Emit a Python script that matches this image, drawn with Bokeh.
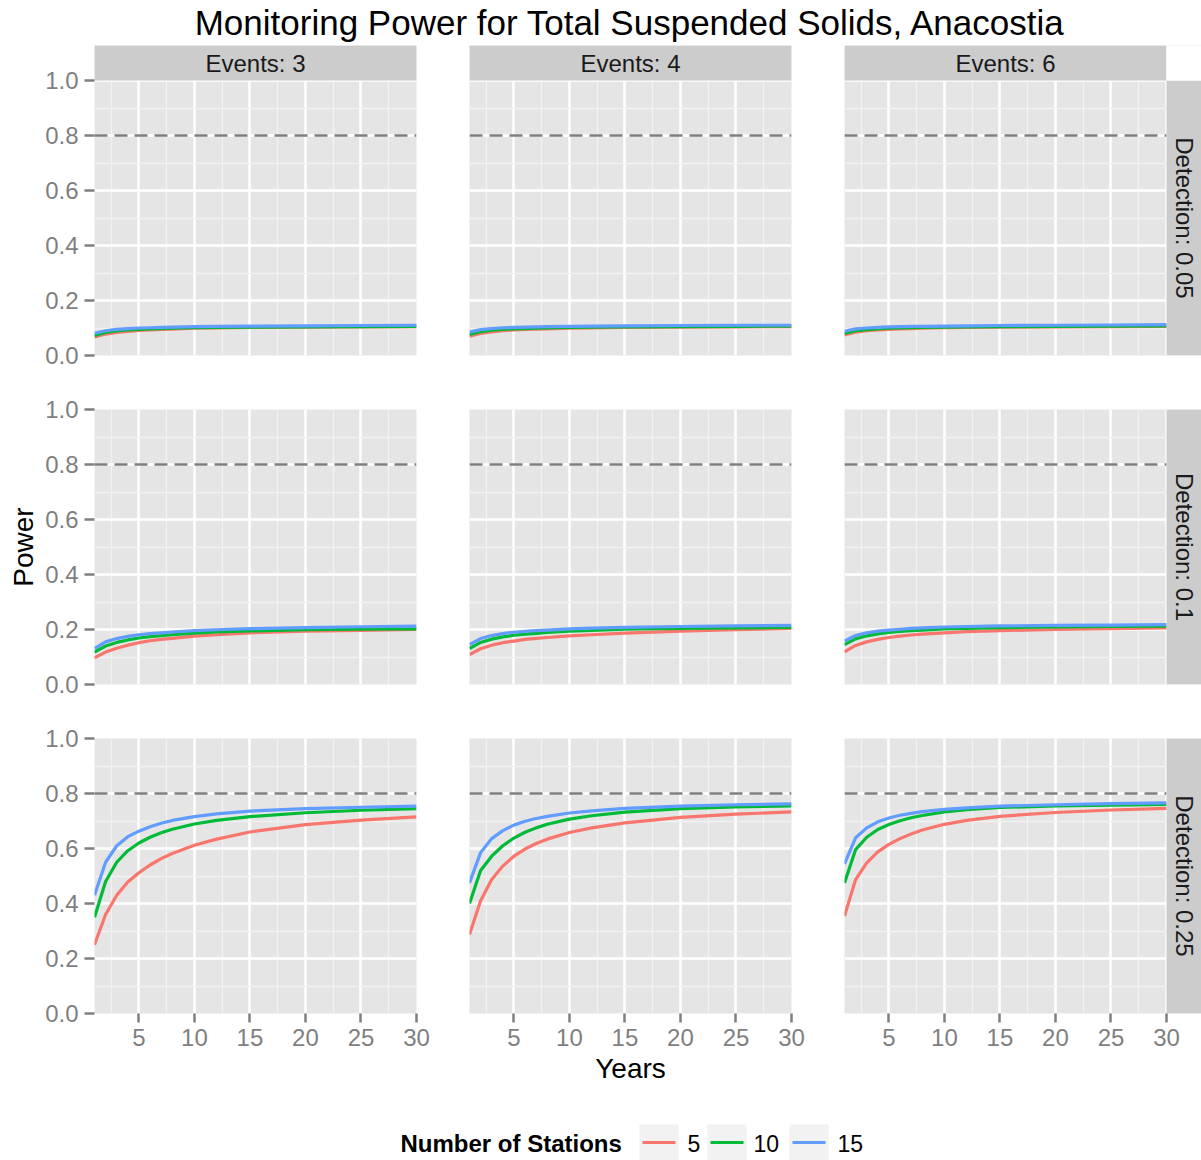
import math
from bokeh.plotting import figure
from bokeh.layouts import column, row
from bokeh.models import Range1d, FixedTicker, LinearAxis, PrintfTickFormatter, Grid
from bokeh.core.properties import value
from bokeh.embed import file_html
from bokeh.resources import INLINE

# ---------------- data ----------------
TITLE = "Monitoring Power for Total Suspended Solids, Anacostia"
X_LABEL = "Years"
Y_LABEL = "Power"
LEGEND_TITLE = "Number of Stations"
events = [3, 4, 6]
detections = ["0.05", "0.1", "0.25"]
stations = ["5", "10", "15"]
years = [1, 2, 3, 4, 5, 6, 7, 8, 10, 12, 15, 20, 25, 30]
x_ticks = [5, 10, 15, 20, 25, 30]
x_minor_ticks = [2.5, 7.5, 12.5, 17.5, 22.5, 27.5]
y_ticks = [0.0, 0.2, 0.4, 0.6, 0.8, 1.0]
y_minor_ticks = [0.1, 0.3, 0.5, 0.7, 0.9]
target_power = 0.8

# Detection 0.05
d005_e3_n5 = [0.067, 0.078, 0.084, 0.088, 0.091, 0.093, 0.095, 0.096, 0.099, 0.100, 0.102, 0.103, 0.104, 0.105]
d005_e3_n10 = [0.073, 0.084, 0.089, 0.093, 0.095, 0.097, 0.098, 0.099, 0.101, 0.102, 0.103, 0.104, 0.105, 0.106]
d005_e3_n15 = [0.081, 0.090, 0.095, 0.098, 0.100, 0.101, 0.102, 0.103, 0.105, 0.106, 0.107, 0.108, 0.109, 0.110]
d005_e4_n5 = [0.070, 0.080, 0.086, 0.090, 0.093, 0.095, 0.096, 0.097, 0.099, 0.100, 0.102, 0.103, 0.104, 0.105]
d005_e4_n10 = [0.077, 0.087, 0.092, 0.095, 0.097, 0.098, 0.099, 0.100, 0.102, 0.103, 0.104, 0.105, 0.106, 0.107]
d005_e4_n15 = [0.085, 0.094, 0.098, 0.101, 0.102, 0.103, 0.104, 0.105, 0.106, 0.107, 0.108, 0.109, 0.110, 0.110]
d005_e6_n5 = [0.075, 0.085, 0.090, 0.093, 0.095, 0.097, 0.098, 0.099, 0.101, 0.102, 0.103, 0.104, 0.105, 0.106]
d005_e6_n10 = [0.080, 0.090, 0.094, 0.097, 0.099, 0.100, 0.101, 0.102, 0.103, 0.104, 0.105, 0.106, 0.107, 0.108]
d005_e6_n15 = [0.088, 0.097, 0.100, 0.102, 0.104, 0.105, 0.106, 0.106, 0.107, 0.108, 0.109, 0.110, 0.111, 0.112]

# Detection 0.1
d01_e3_n5 = [0.097, 0.118, 0.132, 0.143, 0.152, 0.159, 0.164, 0.168, 0.176, 0.181, 0.188, 0.194, 0.197, 0.200]
d01_e3_n10 = [0.118, 0.140, 0.153, 0.162, 0.169, 0.174, 0.178, 0.181, 0.187, 0.191, 0.195, 0.199, 0.201, 0.202]
d01_e3_n15 = [0.131, 0.155, 0.167, 0.175, 0.181, 0.185, 0.188, 0.191, 0.196, 0.199, 0.203, 0.207, 0.210, 0.212]
d01_e4_n5 = [0.109, 0.130, 0.143, 0.152, 0.158, 0.164, 0.168, 0.171, 0.177, 0.181, 0.187, 0.194, 0.199, 0.204]
d01_e4_n10 = [0.131, 0.153, 0.165, 0.173, 0.179, 0.183, 0.186, 0.189, 0.194, 0.197, 0.201, 0.204, 0.206, 0.208]
d01_e4_n15 = [0.145, 0.167, 0.178, 0.185, 0.190, 0.193, 0.196, 0.198, 0.202, 0.205, 0.208, 0.211, 0.213, 0.215]
d01_e6_n5 = [0.119, 0.142, 0.155, 0.164, 0.171, 0.176, 0.180, 0.183, 0.188, 0.192, 0.196, 0.200, 0.203, 0.206]
d01_e6_n10 = [0.145, 0.166, 0.177, 0.184, 0.189, 0.193, 0.196, 0.198, 0.202, 0.204, 0.207, 0.209, 0.211, 0.212]
d01_e6_n15 = [0.158, 0.178, 0.188, 0.194, 0.198, 0.201, 0.204, 0.206, 0.209, 0.211, 0.213, 0.215, 0.216, 0.218]

# Detection 0.25
d025_e3_n5 = [0.250, 0.360, 0.430, 0.478, 0.512, 0.540, 0.563, 0.582, 0.612, 0.634, 0.660, 0.687, 0.703, 0.715]
d025_e3_n10 = [0.350, 0.480, 0.550, 0.592, 0.620, 0.641, 0.657, 0.670, 0.689, 0.702, 0.716, 0.730, 0.739, 0.745]
d025_e3_n15 = [0.430, 0.550, 0.610, 0.643, 0.663, 0.679, 0.692, 0.702, 0.716, 0.726, 0.736, 0.745, 0.750, 0.754]
d025_e4_n5 = [0.287, 0.410, 0.487, 0.536, 0.572, 0.598, 0.618, 0.634, 0.658, 0.675, 0.693, 0.713, 0.725, 0.733]
d025_e4_n10 = [0.400, 0.520, 0.572, 0.610, 0.638, 0.659, 0.675, 0.688, 0.707, 0.719, 0.732, 0.745, 0.751, 0.755]
d025_e4_n15 = [0.475, 0.585, 0.636, 0.665, 0.685, 0.699, 0.709, 0.717, 0.729, 0.737, 0.746, 0.754, 0.759, 0.762]
d025_e6_n5 = [0.354, 0.487, 0.548, 0.588, 0.615, 0.636, 0.653, 0.667, 0.688, 0.702, 0.717, 0.731, 0.740, 0.746]
d025_e6_n10 = [0.475, 0.596, 0.641, 0.669, 0.687, 0.701, 0.712, 0.720, 0.733, 0.741, 0.749, 0.755, 0.758, 0.760]
d025_e6_n15 = [0.544, 0.639, 0.675, 0.697, 0.711, 0.721, 0.728, 0.734, 0.742, 0.748, 0.754, 0.759, 0.763, 0.766]

series = {
    ("0.05", 3): [d005_e3_n5, d005_e3_n10, d005_e3_n15],
    ("0.05", 4): [d005_e4_n5, d005_e4_n10, d005_e4_n15],
    ("0.05", 6): [d005_e6_n5, d005_e6_n10, d005_e6_n15],
    ("0.1", 3): [d01_e3_n5, d01_e3_n10, d01_e3_n15],
    ("0.1", 4): [d01_e4_n5, d01_e4_n10, d01_e4_n15],
    ("0.1", 6): [d01_e6_n5, d01_e6_n10, d01_e6_n15],
    ("0.25", 3): [d025_e3_n5, d025_e3_n10, d025_e3_n15],
    ("0.25", 4): [d025_e4_n5, d025_e4_n10, d025_e4_n15],
    ("0.25", 6): [d025_e6_n5, d025_e6_n10, d025_e6_n15],
}

# ---------------- style / layout ----------------
FONT = "Liberation Sans"
colors = ["#F8766D", "#00BA38", "#619CFF"]
PANEL_BG = "#E5E5E5"
STRIP_BG = "#CCCCCC"
GREY50 = "#7F7F7F"
PANEL_W, PANEL_H = 322, 275
LEFT, GAP_X, STRIP = 94, 53, 35
TITLE_H, GAP_TOP, GAP_BOTTOM, BOTTOM_AXIS, LEGEND_H = 45, 15, 39, 80, 67
W = 1201


def style_axis(ax):
    ax.axis_line_color = None
    ax.major_tick_line_color = GREY50
    ax.major_tick_line_width = 2.5
    ax.major_tick_in = 0
    ax.minor_tick_line_color = None
    ax.major_label_text_color = GREY50
    ax.major_label_text_font = FONT
    ax.major_label_text_font_size = "24px"
    ax.axis_label_text_font = FONT
    ax.axis_label_text_font_size = "28px"
    ax.axis_label_text_font_style = "normal"
    ax.axis_label_text_color = "black"


def make_panel(r, c):
    ev = events[c]
    det = detections[r]
    top_strip = r == 0
    right_strip = c == len(events) - 1
    frame_w = PANEL_W + (STRIP if right_strip else 0)
    frame_h = PANEL_H + (STRIP if top_strip else 0)
    bl = LEFT if c == 0 else 0
    br = 0 if right_strip else GAP_X
    bt = 0 if r == 0 else GAP_TOP
    bb = BOTTOM_AXIS if r == len(detections) - 1 else GAP_BOTTOM
    x0, x1 = years[0], years[-1]
    xmax = x1 + (x1 - x0) * STRIP / PANEL_W if right_strip else x1
    ymax = 1 + STRIP / PANEL_H if top_strip else 1
    p = figure(width=bl + frame_w + br, height=bt + frame_h + bb,
               x_range=Range1d(x0, xmax), y_range=Range1d(0, ymax),
               x_axis_location=None, y_axis_location=None,
               toolbar_location=None, output_backend="svg",
               min_border_left=bl, min_border_right=br,
               min_border_top=bt, min_border_bottom=bb,
               background_fill_color=PANEL_BG, border_fill_color="white",
               outline_line_color=None)
    p.center = []
    xg = Grid(dimension=0, ticker=FixedTicker(ticks=x_ticks, minor_ticks=x_minor_ticks),
              grid_line_color="white", grid_line_width=2.5,
              minor_grid_line_color="#F2F2F2", minor_grid_line_width=1.3)
    yg = Grid(dimension=1, ticker=FixedTicker(ticks=y_ticks, minor_ticks=y_minor_ticks),
              grid_line_color="white", grid_line_width=2.5,
              minor_grid_line_color="#F2F2F2", minor_grid_line_width=1.3)
    p.add_layout(xg, "center")
    p.add_layout(yg, "center")

    if c == 0:
        ya = LinearAxis(ticker=FixedTicker(ticks=y_ticks),
                        formatter=PrintfTickFormatter(format="%.1f"))
        style_axis(ya)
        ya.major_tick_out = 10
        ya.major_label_standoff = 6
        if r == 1:
            ya.axis_label = Y_LABEL
            ya.axis_label_standoff = 3
        p.add_layout(ya, "left")
    if r == len(detections) - 1:
        xa = LinearAxis(ticker=FixedTicker(ticks=x_ticks))
        style_axis(xa)
        xa.major_tick_out = 9
        xa.major_label_standoff = 6
        if c == 1:
            xa.axis_label = X_LABEL
            xa.axis_label_standoff = 4
        p.add_layout(xa, "below")

    for vals, col in zip(series[(det, ev)], colors):
        p.line(years, vals, line_color=col, line_width=3.2, line_join="round")
    p.line([x0, x1], [target_power, target_power], line_color=GREY50,
           line_width=2.5, line_dash="13 7")

    if top_strip:
        p.quad(left=[x0], right=[x1], bottom=[1], top=[ymax],
               fill_color=STRIP_BG, line_color=None)
        p.text(x=[(x0 + x1) / 2], y=[(1 + ymax) / 2], text=[f"Events: {ev}"],
               text_align="center", text_baseline="middle",
               text_font=value(FONT), text_font_size="24px", text_color="#1A1A1A")
    if right_strip:
        p.quad(left=[x1], right=[xmax], bottom=[0], top=[1],
               fill_color=STRIP_BG, line_color=None)
        p.text(x=[(x1 + xmax) / 2], y=[0.5], text=[f"Detection: {det}"],
               angle=-math.pi / 2, text_align="center", text_baseline="middle",
               text_font=value(FONT), text_font_size="24px", text_color="#1A1A1A")
    if top_strip and right_strip:
        p.quad(left=[x1], right=[xmax], bottom=[1], top=[ymax],
               fill_color="white", line_color=None)
    return p


def blank_fig(h):
    f = figure(width=W, height=h, x_range=Range1d(0, W), y_range=Range1d(0, h),
               x_axis_location=None, y_axis_location=None,
               toolbar_location=None, output_backend="svg",
               min_border=0, background_fill_color="white",
               border_fill_color="white", outline_line_color=None)
    f.center = []
    return f


title_fig = blank_fig(TITLE_H)
title_fig.text(x=[630], y=[23], text=[TITLE], text_align="center",
               text_baseline="middle", text_font=value(FONT),
               text_font_size="35px", text_color="black")

rows = []
for r in range(len(detections)):
    rows.append(row(*[make_panel(r, c) for c in range(len(events))]))

legend_fig = blank_fig(LEGEND_H)
legend_fig.text(x=[400], y=[17], text=[LEGEND_TITLE], text_align="left",
                text_baseline="middle", text_font=value(FONT),
                text_font_size="24px", text_font_style="bold", text_color="black")
key_left = [639, 707, 789]
key_w = 39
label_left = [687, 753, 837]
legend_fig.quad(left=key_left, right=[k + key_w for k in key_left],
                bottom=[0] * 3, top=[36] * 3, fill_color="#F2F2F2", line_color=None)
legend_fig.segment(x0=[k + 3 for k in key_left], x1=[k + key_w - 3 for k in key_left],
                   y0=[18] * 3, y1=[18] * 3, line_color=colors, line_width=3)
legend_fig.text(x=label_left, y=[17] * 3, text=stations, text_align="left",
                text_baseline="middle", text_font=value(FONT),
                text_font_size="23px", text_color="black")

layout = column(title_fig, *rows, legend_fig)

with open("out.html", "w") as fh:
    fh.write(file_html(layout, INLINE))
